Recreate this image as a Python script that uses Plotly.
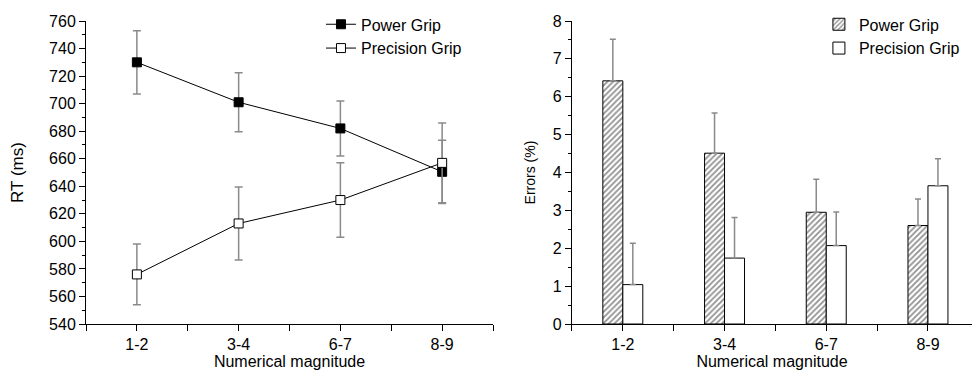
import plotly.graph_objects as go

categories = ["1-2", "3-4", "6-7", "8-9"]
rt_power = [730, 701, 682, 650.5]
rt_power_err = [23, 21.5, 20, 23]
rt_precision = [576, 613, 630, 657]
rt_precision_err = [22, 26.5, 27, 29]

err_power = [6.42, 4.51, 2.95, 2.60]
err_power_se = [1.10, 1.06, 0.87, 0.70]
err_precision = [1.04, 1.74, 2.07, 3.65]
err_precision_se = [1.09, 1.07, 0.89, 0.71]

xi = list(range(len(categories)))
half_ticks = [i * 0.5 - 0.5 for i in range(9)]
half_text = ["" if (v % 1) != 0 else categories[int(v)] for v in half_ticks]

FONT = "Arial, 'Liberation Sans', sans-serif"
ERR_COLOR = "#8a8a8a"

fig = go.Figure()

fig.add_trace(go.Scatter(
    x=xi, y=rt_power, name="Power Grip", mode="lines+markers",
    line=dict(color="black", width=1),
    marker=dict(symbol="square", size=9, color="black", line=dict(color="black", width=1)),
    error_y=dict(type="data", array=rt_power_err, visible=True, color=ERR_COLOR, thickness=1.5, width=4),
    xaxis="x", yaxis="y", legend="legend",
))
fig.add_trace(go.Scatter(
    x=xi, y=rt_precision, name="Precision Grip", mode="lines+markers",
    line=dict(color="black", width=1),
    marker=dict(symbol="square", size=9, color="white", line=dict(color="black", width=1)),
    error_y=dict(type="data", array=rt_precision_err, visible=True, color=ERR_COLOR, thickness=1.5, width=4),
    xaxis="x", yaxis="y", legend="legend",
))

fig.add_trace(go.Bar(
    x=xi, y=err_power, name="Power Grip",
    marker=dict(color="white", line=dict(color="black", width=1),
                pattern=dict(shape="/", size=4, solidity=0.45, fgcolor="#222222", bgcolor="white")),
    error_y=dict(type="data", array=err_power_se, arrayminus=[0] * 4, symmetric=False,
                 visible=True, color=ERR_COLOR, thickness=1.5, width=3),
    xaxis="x2", yaxis="y2", legend="legend2",
))
fig.add_trace(go.Bar(
    x=xi, y=err_precision, name="Precision Grip",
    marker=dict(color="white", line=dict(color="black", width=1)),
    error_y=dict(type="data", array=err_precision_se, arrayminus=[0] * 4, symmetric=False,
                 visible=True, color=ERR_COLOR, thickness=1.5, width=3),
    xaxis="x2", yaxis="y2", legend="legend2",
))

axis_common = dict(showline=True, linecolor="black", linewidth=1, showgrid=False, zeroline=False,
                   ticks="outside", tickcolor="black", ticklen=6, tickwidth=1, automargin=False,
                   tickfont=dict(family=FONT, size=16, color="black"))

fig.update_layout(
    width=972, height=373,
    margin=dict(l=86, r=0, t=21, b=49, autoexpand=False),
    paper_bgcolor="white", plot_bgcolor="white",
    font=dict(family=FONT, size=16, color="black"),
    barmode="group", bargap=0.607, bargroupgap=0,
    xaxis=dict(domain=[0, 0.4594], range=[-0.5, 3.5], tickmode="array",
               tickvals=half_ticks, ticktext=half_text, anchor="y",
               title=dict(text="Numerical magnitude", font=dict(size=16), standoff=2),
               **axis_common),
    yaxis=dict(domain=[0, 1], range=[540, 760], dtick=20, anchor="x",
               minor=dict(dtick=10, ticks="outside", ticklen=3, tickcolor="black"),
               title=dict(text="RT (ms)", font=dict(size=17), standoff=21),
               **axis_common),
    xaxis2=dict(domain=[0.5485, 1], range=[-0.5, 3.433], tickmode="array",
                tickvals=half_ticks, ticktext=half_text, anchor="y2",
                title=dict(text="Numerical magnitude", font=dict(size=16), standoff=2),
                **axis_common),
    yaxis2=dict(domain=[0, 1], range=[0, 8], dtick=1, anchor="x2",
                minor=dict(dtick=0.5, ticks="outside", ticklen=3, tickcolor="black"),
                title=dict(text="Errors (%)", font=dict(size=14), standoff=13),
                **axis_common),
    legend=dict(x=0.43, xanchor="right", y=1.045, yanchor="top", bgcolor="rgba(0,0,0,0)",
                font=dict(family=FONT, size=16), tracegroupgap=0, itemsizing="trace"),
    legend2=dict(x=0.992, xanchor="right", y=1.045, yanchor="top", bgcolor="rgba(0,0,0,0)",
                 font=dict(family=FONT, size=16), tracegroupgap=0),
    showlegend=True,
)

fig.write_html("out.html", config={"displayModeBar": False},
               post_script="document.body.style.margin='0';document.body.style.overflow='hidden';")
